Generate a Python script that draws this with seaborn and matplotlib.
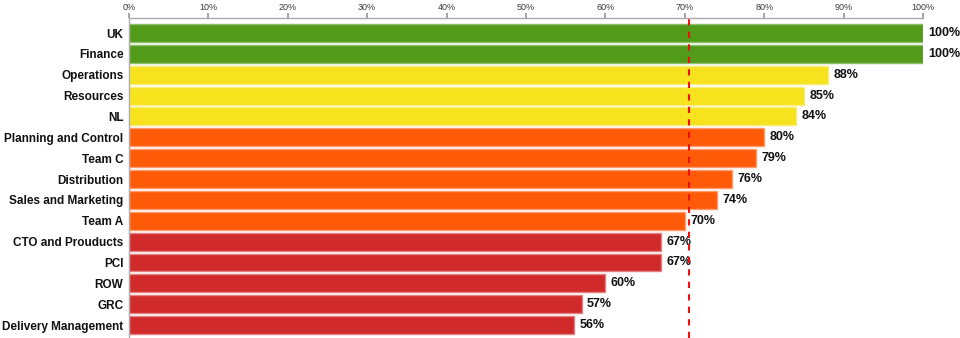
import matplotlib
matplotlib.use("Agg")
import matplotlib.pyplot as plt
import seaborn as sns
import pandas as pd

teams = ["UK", "Finance", "Operations", "Resources", "NL", "Planning and Control",
         "Team C", "Distribution", "Sales and Marketing", "Team A", "CTO and Prouducts",
         "PCI", "ROW", "GRC", "Delivery Management"]
scores = [100, 100, 88, 85, 84, 80, 79, 76, 74, 70, 67, 67, 60, 57, 56]
bands = ["green", "green", "yellow", "yellow", "yellow", "orange", "orange", "orange",
         "orange", "orange", "red", "red", "red", "red", "red"]
band_colors = {"green": "#529a1a", "yellow": "#f6e31e", "orange": "#ff5a08", "red": "#d02a2a"}
band_edges = {"green": "#8cc06a", "yellow": "#f9ec78", "orange": "#ff9a6a", "red": "#e58080"}
target = 70.5
ticks = list(range(0, 101, 10))

df = pd.DataFrame({"team": teams, "score": scores, "band": bands})

sns.set_theme(style="white")
plt.rcParams["font.family"] = ["Liberation Sans", "DejaVu Sans"]

fig = plt.figure(figsize=(9.6, 3.38), dpi=100)
ax = fig.add_axes([129 / 960, 0.0, (923 - 129) / 960, 320 / 338])

sns.barplot(data=df, x="score", y="team", hue="band", palette=band_colors,
            dodge=False, width=0.86, legend=False, ax=ax, saturation=1)

# give each bar a lighter outline matching its band
for bar_container, band in zip(ax.containers, df["band"].unique()):
    for p in bar_container:
        p.set_edgecolor(band_edges[band])
        p.set_linewidth(1.0)

for i, v in enumerate(scores):
    ax.text(v + 0.7, i, f"{v}%", va="center", ha="left", fontsize=9,
            fontweight="bold", color="#111111")

ax.axvline(target, color="#ee1111", linestyle=(0, (3, 3)), linewidth=1.5, zorder=5)

ax.set_xlim(0, 100)
ax.set_ylim(14.62, -0.72)
ax.set_xticks(ticks)
ax.set_xticklabels([f"{t}%" for t in ticks], fontsize=6.5, color="#3a3a3a")
ax.xaxis.tick_top()
ax.tick_params(axis="x", which="both", top=True, bottom=False, length=3.5,
               color="#999999", pad=1, direction="out")
ax.tick_params(axis="y", length=0, pad=4)
for lbl in ax.get_yticklabels():
    lbl.set_fontweight("bold")
    lbl.set_fontsize(8.5)
    lbl.set_color("#111111")
ax.set_xlabel("")
ax.set_ylabel("")
for side in ["right", "bottom"]:
    ax.spines[side].set_visible(False)
for side in ["top", "left"]:
    ax.spines[side].set_color("#aaaaaa")
    ax.spines[side].set_linewidth(1.0)

fig.savefig("out.png", dpi=100)
